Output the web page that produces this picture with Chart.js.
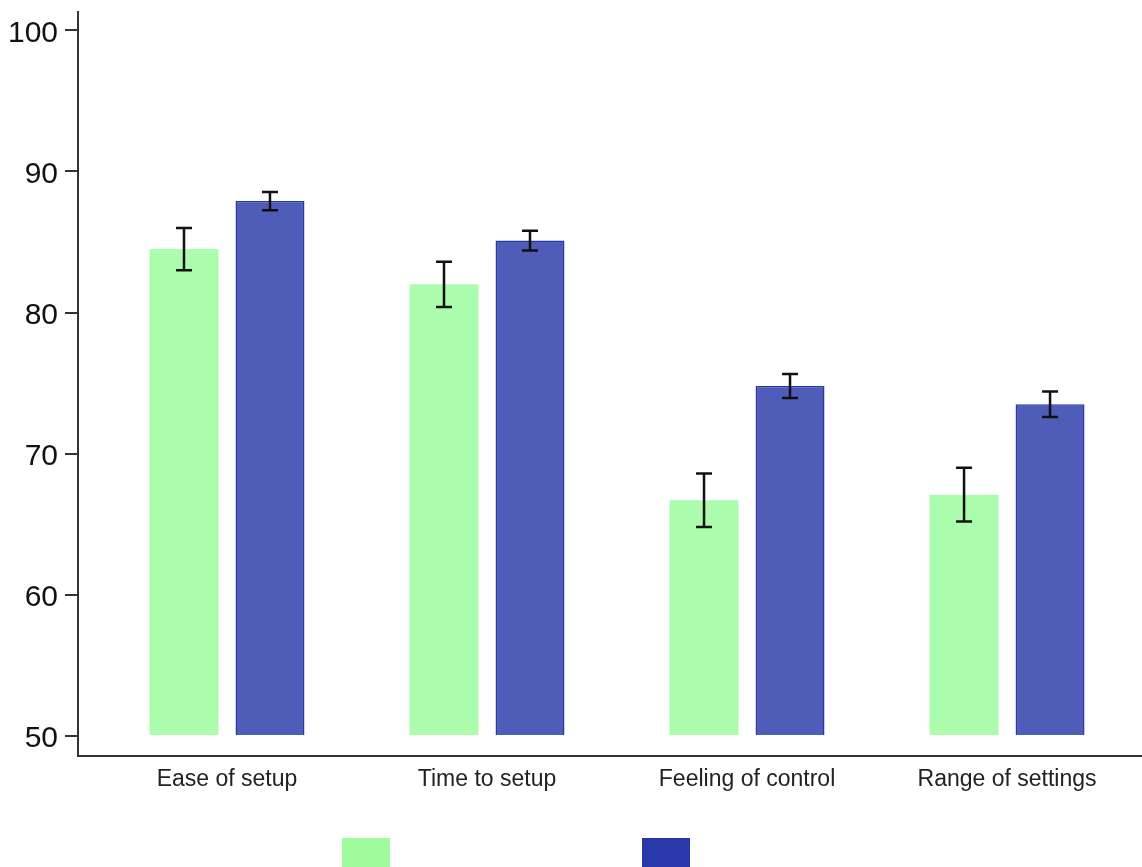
<!DOCTYPE html>
<html>
<head>
<meta charset="utf-8">
<script src="https://cdn.jsdelivr.net/npm/chart.js@4"></script>
<style>
  html, body { margin: 0; padding: 0; background: #fff; }
  #wrap { position: relative; width: 1142px; height: 867px; }
  .key { position: absolute; top: 838px; width: 48px; height: 30px; }
</style>
</head>
<body>
<div id="wrap">
  <canvas id="chart" width="1142" height="867"></canvas>
  <div class="key" style="left:342px;background:#9efc9f"></div>
  <div class="key" style="left:642px;background:#2838a8"></div>
</div>
<script>
const categories = ["Ease of setup", "Time to setup", "Feeling of control", "Range of settings"];
const greenValues = [84.5, 82.0, 66.7, 67.1];
const greenErrors = [1.5, 1.6, 1.9, 1.9];
const blueValues = [87.9, 85.1, 74.8, 73.5];
const blueErrors = [0.65, 0.7, 0.85, 0.9];
const yTicks = [50, 60, 70, 80, 90, 100];

const toPoints = (vals) => vals.map((v, i) => ({ x: i, y: v }));

// whiskers drawn from the y scale
const errorBars = {
  id: "errorBars",
  afterDatasetsDraw(chart) {
    const { ctx } = chart;
    const yScale = chart.scales.y;
    const errs = [greenErrors, blueErrors];
    ctx.save();
    ctx.strokeStyle = "#111";
    ctx.lineWidth = 2.5;
    chart.data.datasets.forEach((ds, d) => {
      chart.getDatasetMeta(d).data.forEach((bar, i) => {
        const v = ds.data[i].y;
        const top = yScale.getPixelForValue(v + errs[d][i]);
        const bot = yScale.getPixelForValue(v - errs[d][i]);
        ctx.beginPath();
        ctx.moveTo(bar.x, top);
        ctx.lineTo(bar.x, bot);
        ctx.moveTo(bar.x - 8, top);
        ctx.lineTo(bar.x + 8, top);
        ctx.moveTo(bar.x - 8, bot);
        ctx.lineTo(bar.x + 8, bot);
        ctx.stroke();
      });
    });
    ctx.restore();
  },
};

new Chart(document.getElementById("chart"), {
  type: "bar",
  data: {
    datasets: [
      {
        label: "Green",
        data: toPoints(greenValues),
        base: 50,
        backgroundColor: "rgba(158, 252, 159, 0.85)",
        borderColor: "rgba(158, 252, 159, 1)",
        borderWidth: 0,
        categoryPercentage: 0.6615,
        barPercentage: 0.802,
      },
      {
        label: "Blue",
        data: toPoints(blueValues),
        base: 50,
        backgroundColor: "rgba(40, 56, 168, 0.81)",
        borderColor: "#2838a8",
        borderWidth: 1.5,
        categoryPercentage: 0.6615,
        barPercentage: 0.802,
      },
    ],
  },
  options: {
    responsive: false,
    animation: false,
    layout: { padding: { top: 12, left: 0, right: 0, bottom: 0 } },
    plugins: {
      legend: { display: false },
      tooltip: { enabled: false },
    },
    scales: {
      x: {
        type: "linear",
        offset: false,
        min: -0.573,
        max: 3.519,
        grid: { display: false, drawTicks: false, offset: false },
        border: { display: true, color: "#333", width: 2 },
        afterBuildTicks: (s) => { s.ticks = categories.map((c, i) => ({ value: i })); },
        afterFit: (s) => { s.height = 111; s.paddingLeft = 0; s.paddingRight = 0; },
        ticks: {
          padding: 10,
          color: "#222",
          font: { family: "Liberation Sans", size: 23 },
          callback: (v) => categories[v],
          maxRotation: 0,
          autoSkip: false,
        },
      },
      y: {
        min: 48.58,
        max: 101.3,
        grid: { display: true, drawOnChartArea: false, drawTicks: true, tickLength: 13, color: "#333", lineWidth: 2 },
        border: { display: true, color: "#333", width: 2 },
        afterBuildTicks: (s) => { s.ticks = yTicks.map((v) => ({ value: v })); },
        afterFit: (s) => { s.width = 78; s.paddingTop = 0; s.paddingBottom = 0; },
        ticks: {
          padding: 7,
          color: "#111",
          labelOffset: 3,
          font: { family: "Liberation Sans", size: 30 },
        },
      },
    },
  },
  plugins: [errorBars],
});
</script>
</body>
</html>
